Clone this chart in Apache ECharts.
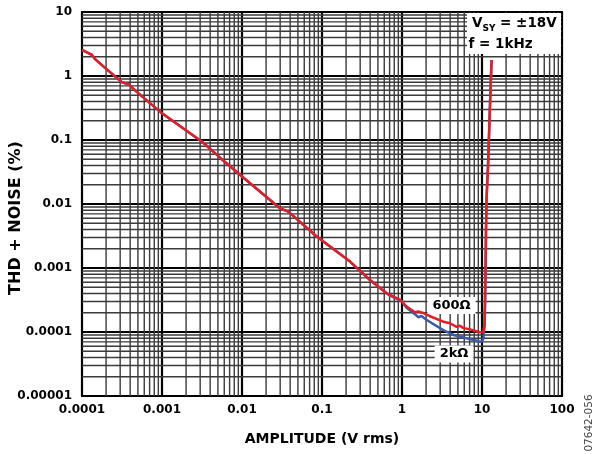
<!DOCTYPE html>
<html>
<head>
<meta charset="utf-8">
<script src="https://cdn.jsdelivr.net/npm/echarts@6/dist/echarts.min.js"></script>
<style>
html,body{margin:0;padding:0;background:#fff;}
#chart{width:595px;height:454px;}
</style>
</head>
<body>
<div id="chart"></div>
<script>
// ---- data ----
const xTickLabels = ['0.0001','0.001','0.01','0.1','1','10','100'];
const yTickLabels = ['0.00001','0.0001','0.001','0.01','0.1','1','10'];
const minorSteps = [2,3,4,5,6,7,8,9];

const load600X = [0.0001,0.000133,0.000147,0.000204,0.000316,0.000384,0.000464,0.001,0.00316,0.0054,0.0095,0.03,0.038,0.0858,0.224,0.398,0.643,0.94,1.14,1.45,1.58,1.8,2.2,3.28,3.98,4.8,5.3,5.8,7.1,9.4,10.4,10.7,10.9,11.05,11.2,11.4,11.9,12.3,12.7,13.2];
const load600Y = [2.55,2.13,1.82,1.27,0.80,0.74,0.59,0.261,0.094,0.052,0.0284,0.0085,0.0076,0.0031,0.00126,0.00065,0.000403,0.00032,0.00025,0.000203,0.00021,0.0002,0.000178,0.000145,0.000137,0.00012,0.000125,0.000116,0.00011,0.0000989,0.0001,0.00013,0.0003,0.001,0.004,0.012,0.041,0.143,0.5,1.78];

const load2kX = [0.0001,0.000133,0.000147,0.000204,0.000316,0.000384,0.000464,0.001,0.00316,0.0054,0.0095,0.03,0.038,0.0858,0.224,0.398,0.643,0.71,1.0,1.14,1.45,1.6,1.75,2.04,3.28,4.4,5.3,6.4,8.6,9.4,10.0,10.4,10.6,10.8,10.95,11.1,11.25,11.4,11.9,12.3,12.7,13.15];
const load2kY = [2.55,2.13,1.82,1.27,0.80,0.74,0.59,0.261,0.094,0.052,0.0284,0.0085,0.0076,0.0031,0.00126,0.00065,0.000403,0.00037,0.00030,0.00024,0.00019,0.00017,0.000178,0.000154,0.000107,0.00009,0.000085,0.00008,0.000073,0.0000705,0.000072,0.000078,0.0001,0.00013,0.0003,0.001,0.004,0.012,0.041,0.143,0.5,1.78];

// ---- build ----
function pairs(xs, ys){ return xs.map((x,i)=>[x, ys[i]]); }
const FONT = '"DejaVu Sans", sans-serif';
const X_MIN = 0.0001, X_MAX = 100, Y_MIN = 0.00001, Y_MAX = 10;

const xMinor = [];
for (let d = -4; d <= 1; d++) minorSteps.forEach(m => xMinor.push([m * Math.pow(10, d), 1]));
const yMinor = [];
for (let d = -5; d <= 0; d++) minorSteps.forEach(m => yMinor.push([1, m * Math.pow(10, d)]));

const minorStyle = {stroke: '#3a3a3a', lineWidth: 1.4};

const chart = echarts.init(document.getElementById('chart'), null, {renderer:'canvas'});
const option = {
  animation: false,
  backgroundColor: '#fff',
  grid: {left: 82, top: 12, width: 480, height: 384, containLabel: false, outerBoundsMode: 'none',
         show: true, borderColor: '#000', borderWidth: 2, backgroundColor: 'transparent'},
  xAxis: {
    type: 'log', logBase: 10, min: X_MIN, max: X_MAX,
    axisLine: {show: false}, axisTick: {show: false},
    splitLine: {show: true, lineStyle: {color: '#000', width: 2.2}},
    axisLabel: {
      margin: 8, color: '#000', fontFamily: FONT, fontWeight: 'bold', fontSize: 12,
      formatter: v => xTickLabels[Math.round(Math.log10(v)) + 4]
    },
    name: 'AMPLITUDE (V rms)', nameLocation: 'middle', nameGap: 36, nameMoveOverlap: false,
    nameTextStyle: {color: '#000', fontFamily: FONT, fontWeight: 'bold', fontSize: 14}
  },
  yAxis: {
    type: 'log', logBase: 10, min: Y_MIN, max: Y_MAX,
    axisLine: {show: false}, axisTick: {show: false},
    splitLine: {show: true, lineStyle: {color: '#000', width: 2.2}},
    axisLabel: {
      margin: 10, color: '#000', fontFamily: FONT, fontWeight: 'bold', fontSize: 12,
      formatter: v => yTickLabels[Math.round(Math.log10(v)) + 5]
    },
    name: 'THD + NOISE (%)', nameLocation: 'middle', nameGap: 58, nameMoveOverlap: false,
    nameTextStyle: {color: '#000', fontFamily: FONT, fontWeight: 'bold', fontSize: 16, padding: [0, 28, 0, 0]}
  },
  series: [
    {
      type: 'custom', z: 1, silent: true, data: xMinor,
      renderItem: (params, api) => {
        const a = api.coord([api.value(0), Y_MIN]);
        const b = api.coord([api.value(0), Y_MAX]);
        return {type: 'line', shape: {x1: a[0], y1: a[1], x2: a[0], y2: b[1]}, style: minorStyle};
      }
    },
    {
      type: 'custom', z: 1, silent: true, data: yMinor,
      renderItem: (params, api) => {
        const a = api.coord([X_MIN, api.value(1)]);
        const b = api.coord([X_MAX, api.value(1)]);
        return {type: 'line', shape: {x1: a[0], y1: a[1], x2: b[0], y2: a[1]}, style: minorStyle};
      }
    },
    {
      name: '2kΩ', type: 'line', z: 3, data: pairs(load2kX, load2kY),
      showSymbol: false, symbol: 'none', smooth: false,
      lineStyle: {color: '#3b5ba7', width: 2.5}
    },
    {
      name: '600Ω', type: 'line', z: 4, data: pairs(load600X, load600Y),
      showSymbol: false, symbol: 'none', smooth: false,
      lineStyle: {color: '#e21f26', width: 2.5}
    }
  ],
  graphic: [
    {type: 'rect', z: 100, shape: {x: 467, y: 13, width: 94, height: 41}, style: {fill: '#fff'}},
    {type: 'text', z: 101, x: 472, y: 23.5, style: {text: 'V', font: 'bold 13.5px ' + FONT, fill: '#000', align: 'left', verticalAlign: 'middle'}},
    {type: 'text', z: 101, x: 482.4, y: 28.5, style: {text: 'SY', font: 'bold 9px ' + FONT, fill: '#000', align: 'left', verticalAlign: 'middle'}},
    {type: 'text', z: 101, x: 495.4, y: 23.5, style: {text: ' = ±18V', font: 'bold 13.5px ' + FONT, fill: '#000', align: 'left', verticalAlign: 'middle'}},
    {type: 'text', z: 101, x: 468.5, y: 44, style: {text: 'f = 1kHz', font: 'bold 13.5px ' + FONT, fill: '#000', align: 'left', verticalAlign: 'middle'}},
    {type: 'text', z: 101, x: 451.5, y: 305.5, style: {text: '600Ω', font: 'bold 13px ' + FONT, fill: '#000', align: 'center', verticalAlign: 'middle', backgroundColor: '#fff', padding: [2, 5, 2, 5]}},
    {type: 'text', z: 101, x: 454, y: 354, style: {text: '2kΩ', font: 'bold 13px ' + FONT, fill: '#000', align: 'center', verticalAlign: 'middle', backgroundColor: '#fff', padding: [2, 5, 2, 5]}},
    {type: 'text', z: 101, x: 589, y: 423, rotation: Math.PI / 2, style: {text: '07642-056', font: '10.5px ' + FONT, fill: '#444', align: 'center', verticalAlign: 'middle'}}
  ]
};
chart.setOption(option);
</script>
</body>
</html>
